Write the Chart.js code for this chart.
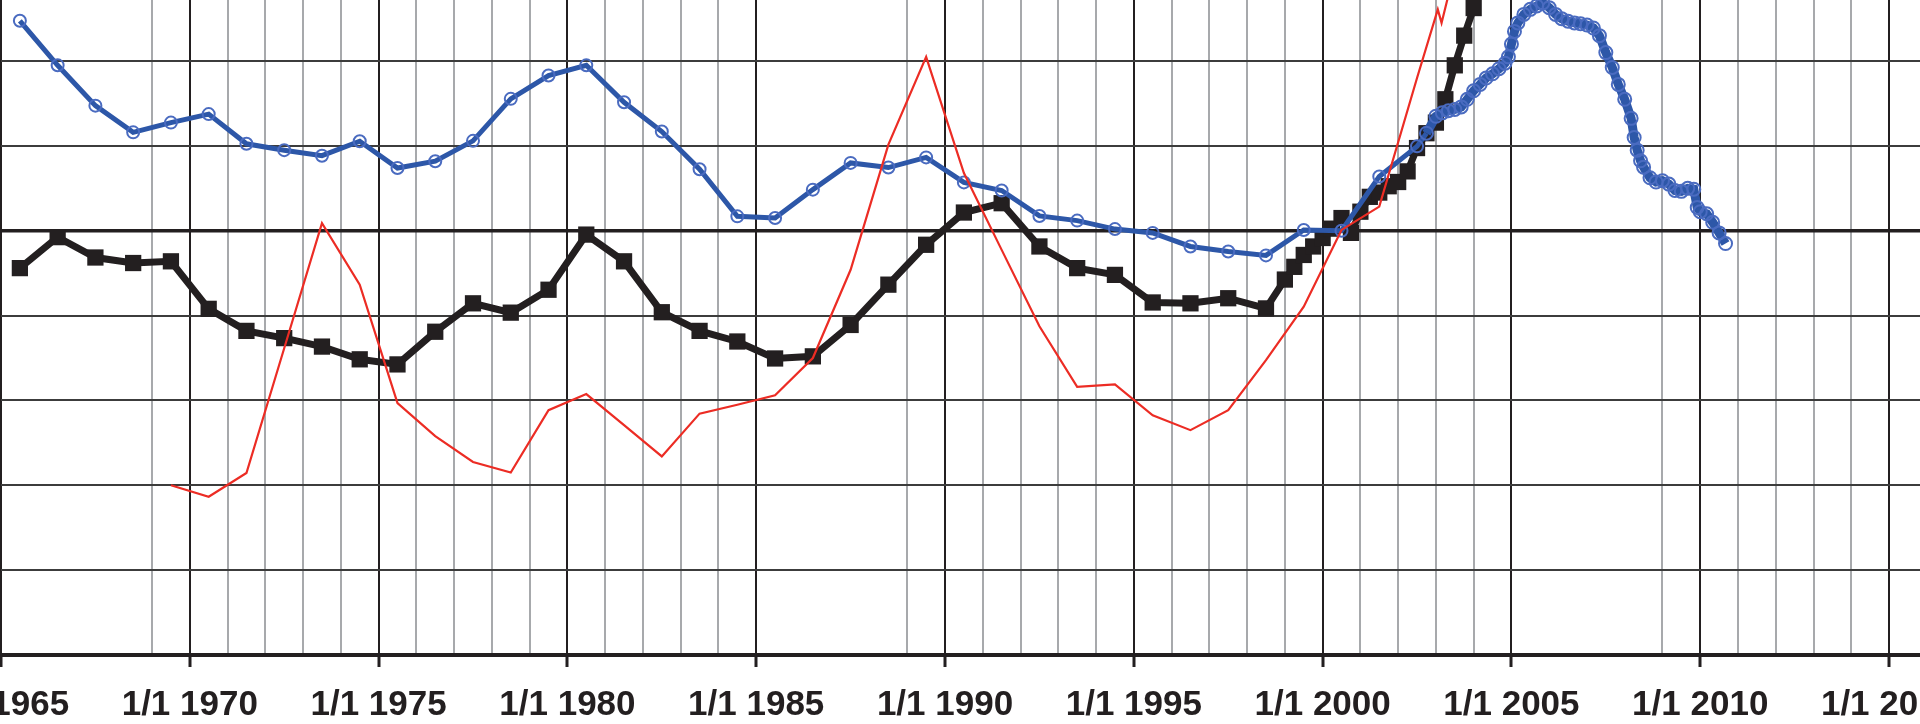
<!DOCTYPE html>
<html>
<head>
<meta charset="utf-8">
<script src="https://cdn.jsdelivr.net/npm/chart.js@4.4.0/dist/chart.umd.min.js"></script>
<style>
html, body { margin: 0; padding: 0; background: #fff; overflow: hidden; width: 1920px; height: 724px; }
#wrap { position: absolute; left: -100px; top: 0; width: 2120px; height: 724px; }
</style>
</head>
<body>
<div id="wrap"><canvas id="myChart"></canvas></div>
<script>
"use strict"

// x = decimal year, y = index (100 = heavy line)
const redYears = [1969.5, 1970.5, 1971.5, 1972.5, 1973.5, 1974.5, 1975.5, 1976.5, 1977.5, 1978.5,
  1979.5, 1980.5, 1981.5, 1982.5, 1983.5, 1984.5, 1985.5, 1986.5, 1987.5, 1988.5,
  1989.5, 1990.5, 1991.5, 1992.5, 1993.5, 1994.5, 1995.5, 1996.5, 1997.5, 1998.5,
  1999.5, 2000.5, 2001.5, 2002.5, 2003.05, 2003.15, 2003.4]
const redValues = [40.0, 37.3, 42.9, 72.3, 101.8, 87.3, 59.4, 51.6, 45.5, 43.0,
  57.7, 61.5, 54.2, 46.8, 56.9, 59.0, 61.2, 70.0, 90.8, 120.3,
  141.0, 113.6, 95.5, 77.5, 63.2, 63.8, 56.5, 53.0, 57.7, 69.5,
  82.1, 100.2, 105.7, 136.0, 152.2, 149.0, 158.0]

const blueYears = [1965.5, 1966.5, 1967.5, 1968.5, 1969.5, 1970.5, 1971.5, 1972.5, 1973.5, 1974.5,
  1975.5, 1976.5, 1977.5, 1978.5, 1979.5, 1980.5, 1981.5, 1982.5, 1983.5, 1984.5,
  1985.5, 1986.5, 1987.5, 1988.5, 1989.5, 1990.5, 1991.5, 1992.5, 1993.5, 1994.5,
  1995.5, 1996.5, 1997.5, 1998.5, 1999.5, 2000.5, 2001.5, 2002.5,
  2002.75, 2003.0, 2003.17, 2003.33, 2003.5, 2003.67, 2003.83, 2004.0, 2004.17, 2004.33,
  2004.5, 2004.67, 2004.83, 2004.92, 2005.0, 2005.08, 2005.17, 2005.33, 2005.5, 2005.67,
  2005.83, 2006.0, 2006.17, 2006.33, 2006.5, 2006.67, 2006.83, 2007.0, 2007.17, 2007.33,
  2007.5, 2007.67, 2007.83, 2008.0, 2008.17, 2008.25, 2008.33, 2008.42, 2008.5, 2008.67,
  2008.83, 2009.0, 2009.17, 2009.33, 2009.5, 2009.67, 2009.83, 2009.92, 2010.0, 2010.17,
  2010.33, 2010.5, 2010.67]
const blueValues = [149.5, 139.0, 129.5, 123.2, 125.5, 127.5, 120.5, 119.0, 117.7, 121.1,
  114.8, 116.4, 121.2, 131.1, 136.6, 139.0, 130.3, 123.4, 114.5, 103.4,
  103.0, 109.7, 116.0, 114.9, 117.3, 111.4, 109.5, 103.5, 102.4, 100.4,
  99.5, 96.3, 95.1, 94.2, 100.2, 100.0, 112.8, 119.9,
  123.0, 127.0, 127.8, 128.3, 128.6, 129.2, 131.0, 133.0, 134.5, 136.0,
  137.0, 138.2, 139.5, 141.0, 144.0, 147.0, 149.0, 151.0, 152.2, 153.0,
  153.7, 152.6, 151.0, 150.0, 149.4, 149.0, 148.8, 148.5, 147.8, 146.0,
  142.0, 138.5, 134.5, 131.0, 126.5, 122.0, 119.0, 116.5, 115.0, 112.5,
  111.5, 111.8, 111.0, 109.5, 109.3, 110.0, 109.8, 105.5, 104.5, 104.0,
  102.0, 99.5, 97.0]

const blackYears = [1965.5, 1966.5, 1967.5, 1968.5, 1969.5, 1970.5, 1971.5, 1972.5, 1973.5, 1974.5,
  1975.5, 1976.5, 1977.5, 1978.5, 1979.5, 1980.5, 1981.5, 1982.5, 1983.5, 1984.5,
  1985.5, 1986.5, 1987.5, 1988.5, 1989.5, 1990.5, 1991.5, 1992.5, 1993.5, 1994.5,
  1995.5, 1996.5, 1997.5, 1998.5,
  1999.0, 1999.25, 1999.5, 1999.75, 2000.0, 2000.25, 2000.5, 2000.75, 2001.0, 2001.25,
  2001.5, 2001.75, 2002.0, 2002.25, 2002.5, 2002.75, 2003.0, 2003.25, 2003.5, 2003.75,
  2004.0, 2004.25]
const blackValues = [91.2, 98.5, 93.7, 92.4, 92.8, 81.6, 76.4, 74.7, 72.7, 69.7,
  68.5, 76.2, 82.9, 80.7, 86.1, 99.1, 92.8, 80.8, 76.4, 73.9,
  69.9, 70.4, 77.8, 87.3, 96.7, 104.3, 106.5, 96.3, 91.2, 89.6,
  83.1, 82.9, 84.1, 81.7,
  88.5, 91.5, 94.3, 96.3, 98.3, 100.5, 103.0, 99.5, 104.5, 108.0,
  109.0, 110.5, 111.5, 114.0, 119.5, 123.0, 125.5, 131.0, 139.0, 146.0,
  152.5, 160.0]

// years whose thin grid line is missing in the original
const gapYears = [1966, 1967, 1968, 1986, 1987, 1988, 2006, 2007, 2008]
// from here on the blue series is sampled densely and reads as a heavy band
const denseFrom = 2002.6

function toPoints(xs, ys) {
  let pts = []
  for (let i = 0; i < xs.length; i++) {
    pts.push({x: xs[i], y: ys[i]})
  }
  return pts
}

const ink = '#231f20'
const clear = 'rgba(0,0,0,0)'

let ctx = document.getElementById('myChart').getContext('2d')

let chart = new Chart(ctx, {
  type: 'line',
  data: {
    datasets: [{
      label: 'red',
      data: toPoints(redYears, redValues),
      borderColor: '#ec2c24',
      borderWidth: 2.2,
      pointRadius: 0,
      tension: 0
    }, {
      label: 'blue',
      data: toPoints(blueYears, blueValues),
      borderColor: '#2d57a8',
      borderWidth: 5,
      segment: {
        borderWidth: c => c.p0.parsed.x >= denseFrom ? 9 : 5
      },
      pointStyle: 'circle',
      pointRadius: c => c.raw && c.raw.x >= denseFrom ? 6.5 : 6,
      pointBorderColor: '#4a6bc0',
      pointBackgroundColor: clear,
      pointBorderWidth: 2,
      tension: 0
    }, {
      label: 'black',
      data: toPoints(blackYears, blackValues),
      borderColor: ink,
      borderWidth: 7,
      pointStyle: 'rect',
      pointRadius: 11.5,
      pointBackgroundColor: ink,
      pointBorderColor: ink,
      pointBorderWidth: 0,
      tension: 0
    }]
  },
  options: {
    responsive: true,
    maintainAspectRatio: false,
    animation: false,
    devicePixelRatio: 1,
    layout: { autoPadding: false, padding: { left: 101, right: 100, top: 0, bottom: 0 } },
    plugins: { legend: { display: false }, tooltip: { enabled: false } },
    scales: {
      x: {
        type: 'linear',
        min: 1965,
        max: 2015.82,
        afterFit: function(scale) { scale.height = 69 },
        ticks: {
          stepSize: 1,
          includeBounds: false,
          autoSkip: false,
          maxRotation: 0,
          padding: 17,
          color: ink,
          font: { family: 'Liberation Sans', size: 35, weight: 'bold' },
          callback: function(v) { return v % 5 === 0 ? '1/1 ' + v : '' }
        },
        grid: {
          color: function(c) {
            let v = c.tick.value
            if (v % 5 === 0) return ink
            if (gapYears.includes(v)) return clear
            return '#a7a9ac'
          },
          lineWidth: 2,
          drawTicks: true,
          tickLength: 12,
          tickWidth: 3,
          tickColor: function(c) { return c.tick.value % 5 === 0 ? ink : clear }
        },
        border: { display: true, color: ink, width: 4 }
      },
      y: {
        type: 'linear',
        min: 0,
        max: 154.4,
        ticks: { display: false, stepSize: 20, includeBounds: false },
        grid: {
          color: function(c) {
            let v = c.tick.value
            if (v === 0) return clear
            return v === 100 ? ink : '#3c3c3c'
          },
          lineWidth: function(c) { return c.tick.value === 100 ? 3.5 : 2 },
          drawTicks: false
        },
        border: { display: false }
      }
    }
  }
})
</script>
</body>
</html>
